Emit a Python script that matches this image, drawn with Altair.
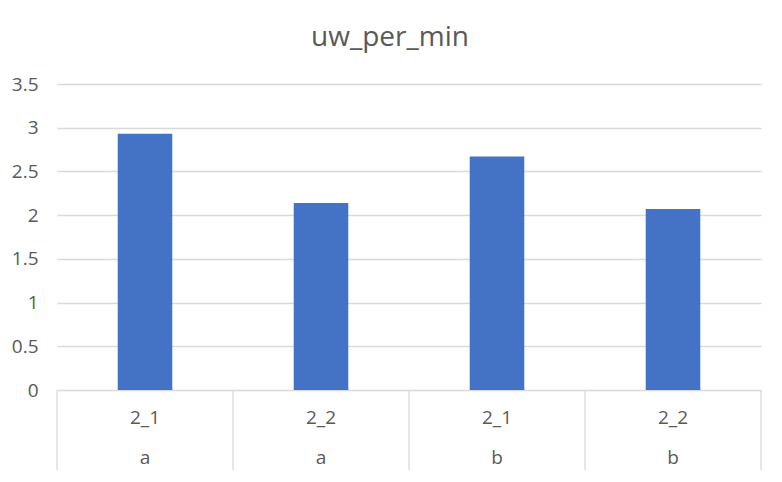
import altair as alt
import pandas as pd

sub = ["2_1", "2_2", "2_1", "2_2"]
grp = ["a", "a", "b", "b"]
vals = [2.93, 2.14, 2.67, 2.07]
y_ticks = [0, 0.5, 1, 1.5, 2, 2.5, 3, 3.5]
title_text = "uw_per_min"

keys = [f"{s}|{g}|{i}" for i, (s, g) in enumerate(zip(sub, grp))]
df = pd.DataFrame({"key": keys, "sub": sub, "grp": grp, "val": vals})

W, H = 704, 306
FONT = "Open Sans"
TXT = "#595959"
GRID = "#d9d9d9"
xscale = alt.Scale(domain=keys, paddingInner=0, paddingOuter=0)

base = alt.Chart(df)

bars = base.mark_bar(color="#4472C4", width=alt.RelativeBandSize(0.31)).encode(
    x=alt.X("key:N", sort=keys, axis=None, scale=xscale),
    y=alt.Y("val:Q", scale=alt.Scale(domain=[0, 3.5], nice=False),
            axis=alt.Axis(values=y_ticks, format="~g", title=None, domain=False,
                          ticks=False, grid=True, gridColor=GRID, gridWidth=1.3,
                          labelFont=FONT, labelFontSize=19, labelColor=TXT,
                          labelPadding=19)),
)

sep = base.mark_rule(color=GRID, strokeWidth=1.3).encode(
    x=alt.X("key:N", sort=keys, axis=None, scale=xscale, bandPosition=0),
    y=alt.value(H), y2=alt.value(H + 80),
)
sep_end = alt.Chart(pd.DataFrame({"e": [0]})).mark_rule(color=GRID, strokeWidth=1.3).encode(
    x=alt.value(W), y=alt.value(H), y2=alt.value(H + 80),
)

lab1 = base.mark_text(baseline="alphabetic", font=FONT, fontSize=19, color=TXT).encode(
    x=alt.X("key:N", sort=keys, axis=None, scale=xscale, bandPosition=0.5),
    y=alt.value(H + 34), text="sub:N",
)
lab2 = base.mark_text(baseline="alphabetic", font=FONT, fontSize=19, color=TXT).encode(
    x=alt.X("key:N", sort=keys, axis=None, scale=xscale, bandPosition=0.5),
    y=alt.value(H + 74), text="grp:N",
)

title = alt.Chart(pd.DataFrame({"t": [title_text]})).mark_text(
    baseline="alphabetic", font=FONT, fontSize=28, color=TXT
).encode(x=alt.value(333), y=alt.value(-38), text="t:N")

chart = alt.layer(bars, sep, sep_end, lab1, lab2, title).properties(
    width=W, height=H,
    autosize=alt.AutoSizeParams(type="none"),
    padding={"left": 49, "top": 76, "right": 13, "bottom": 84},
).configure_view(stroke=None)

chart.save("out.html", embed_options={"renderer": "svg", "actions": False})
